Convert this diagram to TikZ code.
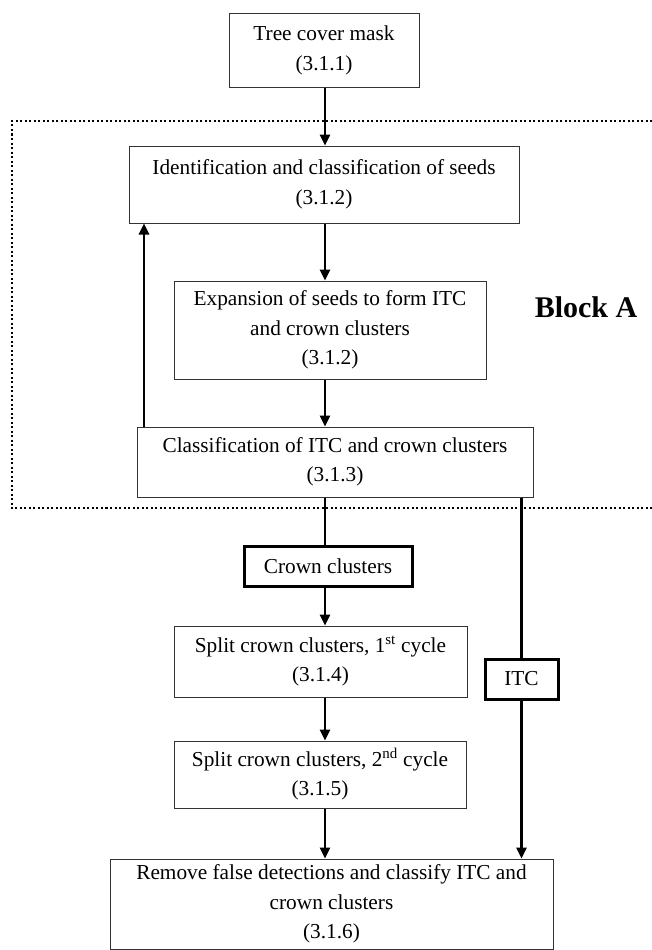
\documentclass[tikz,border=0pt]{standalone}
\usepackage{fontspec}
\setmainfont{Liberation Serif}
\usetikzlibrary{arrows.meta}
\begin{document}
\begin{tikzpicture}[x=1pt,y=-1pt,
  box/.style={draw=black!80,line width=1pt,align=center,inner sep=0pt,font=\fontsize{21.3}{29.5}\selectfont},
  thickbox/.style={box,draw=black,line width=3pt},
  link/.style={line width=2.5pt},
  arr/.style={line width=2.5pt,-{Triangle[width=10pt,length=11pt]}}]
\useasboundingbox (0,0) rectangle (652,950);
\coordinate (spine) at (325,0);
\coordinate (back) at (144,0);
\node[box,minimum width=190pt,minimum height=73pt] (cover) at (324,50.5) {Tree cover mask\\(3.1.1)};
\node[box,minimum width=390pt,minimum height=77pt] (seeds) at (324,184.5) {Identification and classification of seeds\\(3.1.2)};
\node[box,minimum width=312pt,minimum height=98pt] (expand) at (330,330) {Expansion of seeds to form ITC\\and crown clusters\\(3.1.2)};
\node[box,minimum width=396pt,minimum height=70pt] (classify) at (335,462) {Classification of ITC and crown clusters\\(3.1.3)};
\node[thickbox,minimum width=168pt,minimum height=40pt] (crown) at (328,566) {Crown clusters};
\node[box,minimum width=293pt,minimum height=71pt] (split1) at (320.5,661.5) {Split crown clusters, 1\textsuperscript{st} cycle\\(3.1.4)};
\node[thickbox,minimum width=73pt,minimum height=40pt] (itc) at (521.5,679) {ITC};
\node[box,minimum width=292pt,minimum height=67pt] (split2) at (320,774.5) {Split crown clusters, 2\textsuperscript{nd} cycle\\(3.1.5)};
\node[box,minimum width=443pt,minimum height=90pt] (remove) at (331.5,904) {Remove false detections and classify ITC and\\crown clusters\\(3.1.6)};
\node[font=\fontsize{30}{30}\selectfont\bfseries] (blocka) at (586,307) {Block A};
\draw[line width=2pt,dash pattern=on 2pt off 2.5pt] (652,121) -- (12,121) -- (12,508) -- (652,508);
\draw[arr] (cover.south -| spine) -- (seeds.north -| spine);
\draw[arr] (seeds.south -| spine) -- (expand.north -| spine);
\draw[arr] (expand.south -| spine) -- (classify.north -| spine);
\draw[arr] (classify.north -| back) -- (seeds.south -| back);
\draw[link] (classify.south -| spine) -- (crown.north -| spine);
\draw[arr] (crown.south -| spine) -- (split1.north -| spine);
\draw[arr] (split1.south -| spine) -- (split2.north -| spine);
\draw[arr] (split2.south -| spine) -- (remove.north -| spine);
\draw[link] (classify.south -| itc) -- (itc.north);
\draw[arr] (itc.south) -- (itc.south |- remove.north);
\end{tikzpicture}
\end{document}
